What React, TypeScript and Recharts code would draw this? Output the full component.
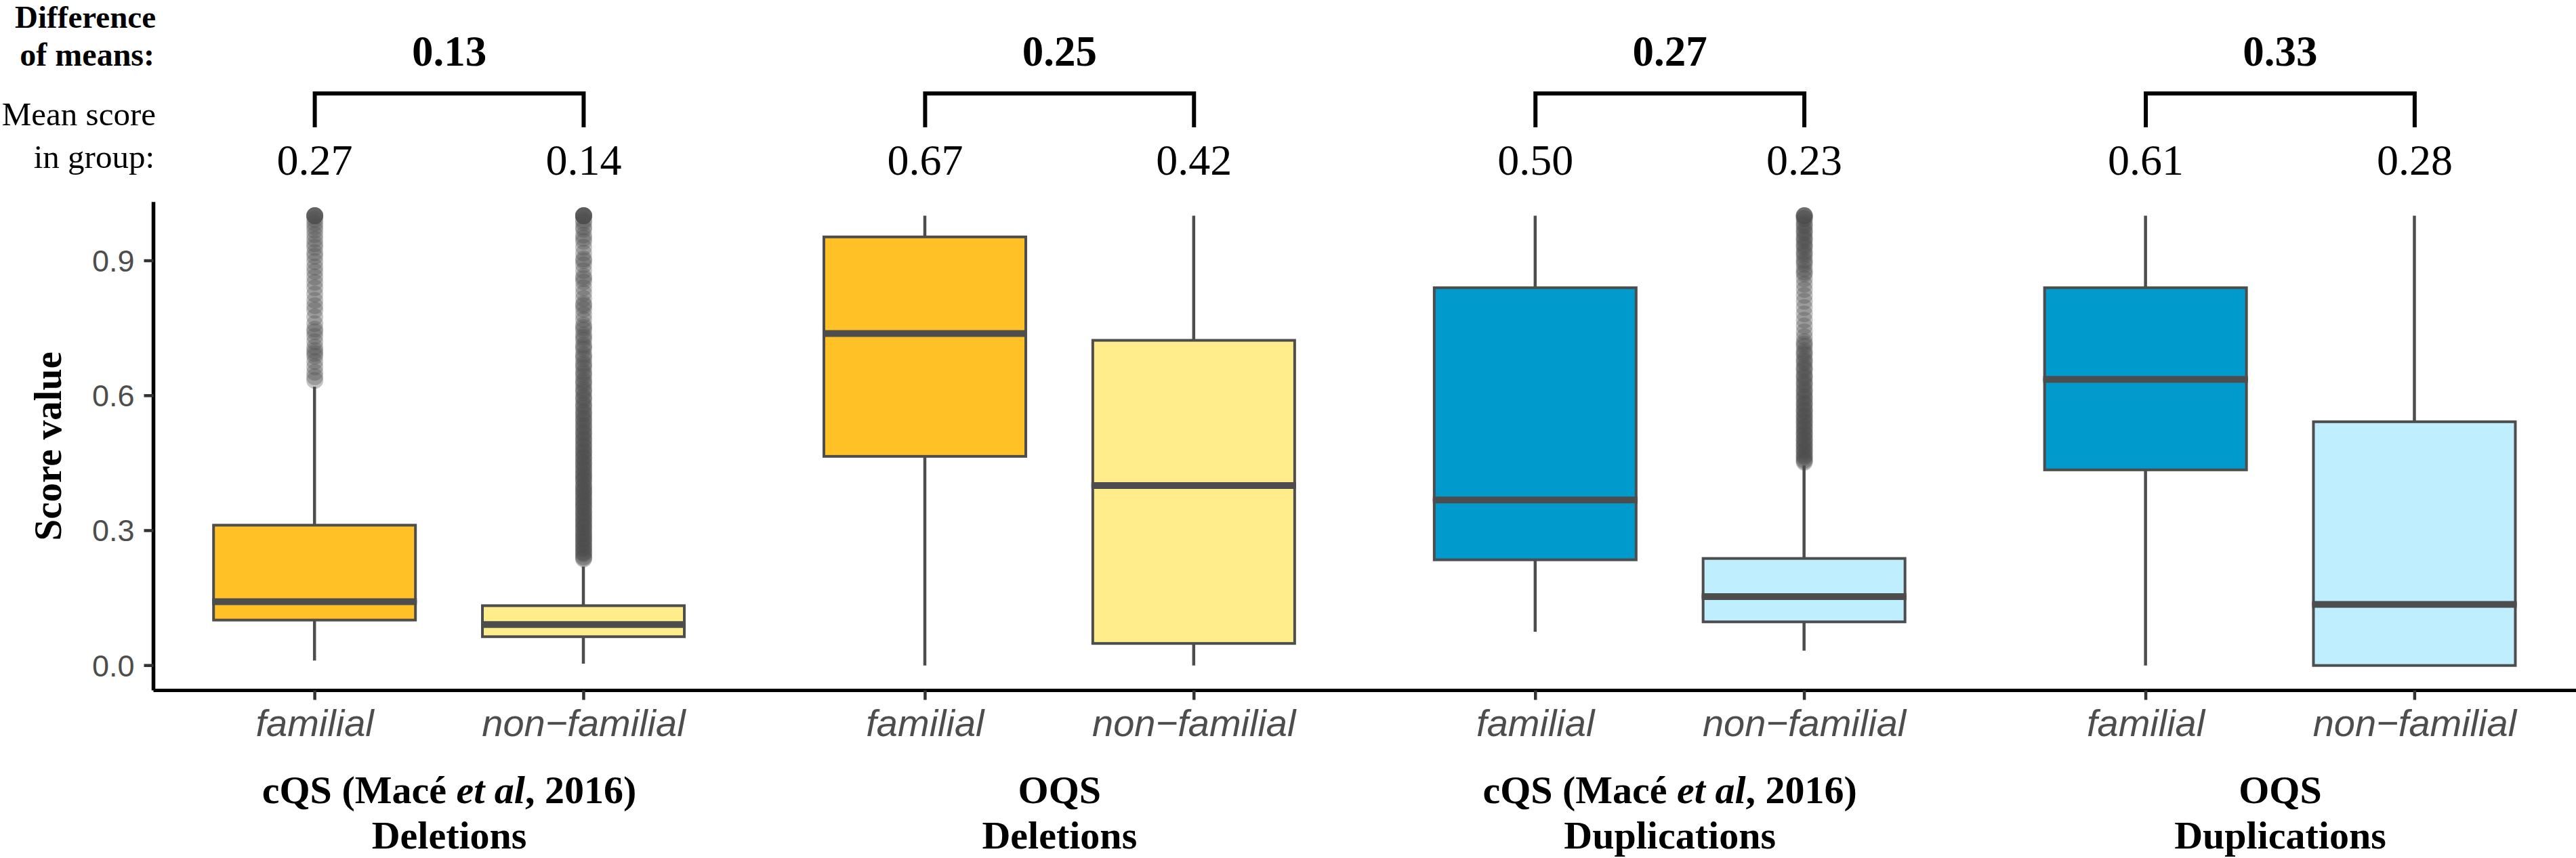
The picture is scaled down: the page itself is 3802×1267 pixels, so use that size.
import React from 'react';
import { ComposedChart, Bar, Scatter, XAxis, YAxis, ReferenceLine } from 'recharts';

const W = 3802;
const H = 1267;
const SERIF = '"Liberation Serif", "Times New Roman", Times, serif';
const SANS = '"Liberation Sans", Arial, Helvetica, sans-serif';
const INK = '#4D4D4D';

// categories inside each facet
const groupLabels = ['familial', 'non\u2212familial'];
const facetMethods = ['cQS (Macé et al, 2016)', 'OQS', 'cQS (Macé et al, 2016)', 'OQS'];
const facetTypes = ['Deletions', 'Deletions', 'Duplications', 'Duplications'];

// one entry per box: del cQS f/nf, del OQS f/nf, dup cQS f/nf, dup OQS f/nf
const boxFills = ['#FFC125', '#FFEC8B', '#FFC125', '#FFEC8B', '#009ACD', '#BFEFFF', '#009ACD', '#BFEFFF'];
const whiskerLow = [0.011, 0.004, 0.0, 0.0, 0.075, 0.033, 0.0, 0.0];
const q1 = [0.101, 0.064, 0.465, 0.049, 0.235, 0.097, 0.435, 0.0];
const median = [0.142, 0.091, 0.738, 0.4, 0.368, 0.153, 0.636, 0.136];
const q3 = [0.312, 0.133, 0.953, 0.723, 0.84, 0.238, 0.84, 0.542];
const whiskerHigh = [0.62, 0.22, 1.0, 1.0, 1.0, 0.445, 1.0, 1.0];

const meanScores = [0.27, 0.14, 0.67, 0.42, 0.5, 0.23, 0.61, 0.28];
const meanDiffs = [0.13, 0.25, 0.27, 0.33];

const outliersDelCqsFam = [
  0.634, 0.642, 0.652, 0.664, 0.676, 0.688, 0.694, 0.7, 0.708, 0.72, 0.732, 0.742, 0.748, 0.76,
  0.775, 0.79, 0.8, 0.812, 0.826, 0.84, 0.852, 0.864, 0.876, 0.886, 0.898, 0.91, 0.918, 0.93,
  0.938, 0.948, 0.958, 0.968, 0.976, 0.984, 0.992, 1.0, 1.0, 1.0, 1.0, 1.0,
];
const outliersDelCqsNonFam = [
  0.237, 0.242, 0.248, 0.253, 0.259, 0.264, 0.27, 0.276, 0.281, 0.287, 0.292, 0.298, 0.304, 0.309,
  0.315, 0.321, 0.326, 0.332, 0.338, 0.343, 0.35, 0.356, 0.361, 0.367, 0.373, 0.379, 0.385, 0.39,
  0.396, 0.402, 0.409, 0.415, 0.421, 0.427, 0.433, 0.44, 0.446, 0.452, 0.459, 0.465, 0.472, 0.478,
  0.485, 0.492, 0.499, 0.506, 0.513, 0.52, 0.527, 0.535, 0.542, 0.55, 0.557, 0.565, 0.573, 0.581,
  0.59, 0.598, 0.607, 0.616, 0.625, 0.634, 0.643, 0.653, 0.662, 0.672, 0.682, 0.692, 0.703, 0.713,
  0.724, 0.735, 0.746, 0.757, 0.769, 0.78, 0.792, 0.804, 0.816, 0.828, 0.84, 0.853, 0.865, 0.878,
  0.891, 0.904, 0.917, 0.93, 0.943, 0.957, 0.97, 0.985, 1.0, 1.0, 1.0, 1.0,
  0.2395, 0.2505, 0.2615, 0.2725, 0.2835, 0.2945, 0.3065, 0.3175, 0.3295, 0.3405, 0.3525, 0.3645,
  0.3755, 0.3875, 0.3985, 0.4125, 0.4235, 0.4365, 0.4495, 0.4625, 0.4755, 0.4885, 0.5025, 0.5165,
  0.5315, 0.5465, 0.5615, 0.5775, 0.5945, 0.6115, 0.6295, 0.6485, 0.6675, 0.6875, 0.7085, 0.7295,
  0.7515, 0.8, 0.86, 0.9, 0.95, 0.975, 0.99, 1.0, 1.0,
];
const outliersDupCqsNonFam = [
  0.452, 0.458, 0.463, 0.469, 0.475, 0.481, 0.487, 0.493, 0.499, 0.505, 0.512, 0.518, 0.524, 0.531,
  0.537, 0.544, 0.55, 0.557, 0.564, 0.571, 0.578, 0.585, 0.592, 0.6, 0.607, 0.615, 0.623, 0.631,
  0.639, 0.647, 0.656, 0.664, 0.673, 0.682, 0.691, 0.7, 0.71, 0.72, 0.731, 0.742, 0.755, 0.768,
  0.782, 0.796, 0.81, 0.823, 0.836, 0.848, 0.86, 0.871, 0.882, 0.892, 0.902, 0.911, 0.92, 0.929,
  0.937, 0.945, 0.953, 0.961, 0.969, 0.977, 0.985, 0.993, 1.0, 1.0, 1.0,
  0.455, 0.466, 0.478, 0.49, 0.502, 0.515, 0.528, 0.541, 0.554, 0.567, 0.581, 0.596, 0.611, 0.627,
  0.643, 0.66, 0.677, 0.695, 0.715, 0.875, 0.897, 0.916, 0.933, 0.949, 0.965, 0.98, 0.995, 1.0,
];
const outliers = [outliersDelCqsFam, outliersDelCqsNonFam, [], [], [], outliersDupCqsNonFam, [], []];

// facets sit 2.27 category-steps apart (2.2 panel + spacing)
const PANEL_STEP = 2.27;
const posOf = (k: number) => Math.floor(k / 2) * PANEL_STEP + (k % 2);

// annotation levels above the panel, in score units
const BRACKET_Y = 1.272;
const LEG_TOP = 1.2765;
const LEG_BOTTOM = 1.1967;

const rows = whiskerLow.map((lo, k) => ({
  pos: posOf(k),
  label: groupLabels[k % 2],
  fill: boxFills[k],
  base: lo,
  lowW: q1[k] - lo,
  lowBox: median[k] - q1[k],
  upBox: q3[k] - median[k],
  upW: whiskerHigh[k] - q3[k],
}));

const outlierRows = outliers.flatMap((vals, k) => vals.map((v) => ({ pos: posOf(k), value: v })));
const facetMids = facetMethods.map((_, g) => g * PANEL_STEP + 0.5);
const xDomain = [-0.6, posOf(7) + 0.6];

const Whisker = (p: any) => {
  if (!p.height || p.height <= 0) return null;
  const cx = p.x + p.width / 2;
  return <line x1={cx} x2={cx} y1={p.y} y2={p.y + p.height} stroke={INK} strokeWidth={4.5} />;
};

const LowerBox = (p: any) => (
  <rect x={p.x} y={p.y} width={p.width} height={Math.max(p.height, 0)} fill={p.payload.fill} stroke={INK} strokeWidth={4} />
);

const UpperBox = (p: any) => (
  <g>
    <rect x={p.x} y={p.y} width={p.width} height={Math.max(p.height, 0)} fill={p.payload.fill} stroke={INK} strokeWidth={4} />
    <line x1={p.x - 2} x2={p.x + p.width + 2} y1={p.y + p.height} y2={p.y + p.height} stroke={INK} strokeWidth={10} />
  </g>
);

const OutlierDot = (p: any) => <circle cx={p.cx} cy={p.cy} r={12.5} fill={INK} fillOpacity={0.33} />;

const FacetTick = (p: any) => {
  const g = p.index;
  const title = facetMethods[g] || '';
  const parts = title.split('et al');
  return (
    <g>
      <text x={p.x} y={p.y + 56} textAnchor="middle" fontFamily={SERIF} fontWeight="bold" fontSize={58} fill="#000">
        {parts.length > 1 ? (
          <>
            <tspan>{parts[0]}</tspan>
            <tspan fontStyle="italic">et al</tspan>
            <tspan>{parts[1]}</tspan>
          </>
        ) : (
          title
        )}
      </text>
      <text x={p.x} y={p.y + 123} textAnchor="middle" fontFamily={SERIF} fontWeight="bold" fontSize={58} fill="#000">
        {facetTypes[g]}
      </text>
    </g>
  );
};

const YTitle = (p: any) => {
  const vb = p.viewBox || { x: 0, y: 298, width: 226, height: 721 };
  const x = vb.x + 90;
  const y = vb.y + vb.height / 2;
  return (
    <text x={x} y={y} transform={`rotate(-90 ${x} ${y})`} textAnchor="middle" fontFamily={SERIF} fontWeight="bold" fontSize={57} fill="#000">
      Score value
    </text>
  );
};

const meanLabel = (text: string) => (p: any) => {
  const vb = p.viewBox || {};
  return (
    <text x={vb.x + (vb.width || 0) / 2} y={vb.y + (vb.height || 0) + 70} textAnchor="middle" fontFamily={SERIF} fontSize={64} fill="#000">
      {text}
    </text>
  );
};

const diffLabel = (text: string) => (p: any) => {
  const vb = p.viewBox || {};
  return (
    <text x={vb.x + (vb.width || 0) / 2} y={vb.y - 41} textAnchor="middle" fontFamily={SERIF} fontWeight="bold" fontSize={63} fill="#000">
      {text}
    </text>
  );
};

export default function App() {
  return (
    <div style={{ position: 'absolute', left: 0, top: 0, width: W, height: H, background: '#fff' }}>
      <ComposedChart width={W} height={H} data={rows} margin={{ top: 298.3, right: 0, bottom: 0, left: 0 }}>
        <XAxis
          xAxisId="cat"
          type="number"
          dataKey="pos"
          domain={xDomain}
          allowDataOverflow
          ticks={rows.map((r) => r.pos)}
          interval={0}
          tickFormatter={(v: number) => rows.find((r) => Math.abs(r.pos - v) < 1e-6)?.label ?? ''}
          height={110}
          axisLine={{ stroke: '#000', strokeWidth: 5 }}
          tickLine={{ stroke: '#333', strokeWidth: 4.5 }}
          tickSize={14}
          tickMargin={14}
          tick={{ fill: INK, fontSize: 56, fontFamily: SANS, fontStyle: 'italic' }}
        />
        <XAxis
          xAxisId="facet"
          type="number"
          dataKey="pos"
          domain={xDomain}
          allowDataOverflow
          ticks={facetMids}
          interval={0}
          height={137.5}
          axisLine={false}
          tickLine={false}
          tickSize={0}
          tickMargin={0}
          tick={<FacetTick />}
        />
        <YAxis
          type="number"
          domain={[-0.0554, 1.0306]}
          allowDataOverflow
          ticks={[0, 0.3, 0.6, 0.9]}
          tickFormatter={(v: number) => v.toFixed(1)}
          width={226.5}
          axisLine={{ stroke: '#000', strokeWidth: 5.5 }}
          tickLine={{ stroke: '#333', strokeWidth: 4.5 }}
          tickSize={14}
          tickMargin={14}
          tick={{ fill: INK, fontSize: 45, fontFamily: SANS }}
          label={<YTitle />}
        />
        <Bar xAxisId="cat" dataKey="base" stackId="box" barSize={298} fill="none" shape={() => null} isAnimationActive={false} />
        <Bar xAxisId="cat" dataKey="lowW" stackId="box" barSize={298} shape={<Whisker />} isAnimationActive={false} />
        <Bar xAxisId="cat" dataKey="lowBox" stackId="box" barSize={298} shape={<LowerBox />} isAnimationActive={false} />
        <Bar xAxisId="cat" dataKey="upBox" stackId="box" barSize={298} shape={<UpperBox />} isAnimationActive={false} />
        <Bar xAxisId="cat" dataKey="upW" stackId="box" barSize={298} shape={<Whisker />} isAnimationActive={false} />
        <Scatter xAxisId="cat" data={outlierRows} dataKey="value" shape={<OutlierDot />} isAnimationActive={false} />
        {meanDiffs.map((d, g) => {
          const a = posOf(2 * g);
          const b = posOf(2 * g + 1);
          return (
            <React.Fragment key={g}>
              <ReferenceLine
                xAxisId="cat"
                ifOverflow="visible"
                segment={[{ x: a, y: BRACKET_Y }, { x: b, y: BRACKET_Y }]}
                stroke="#000"
                strokeWidth={6}
                label={diffLabel(d.toFixed(2))}
              />
              <ReferenceLine
                xAxisId="cat"
                ifOverflow="visible"
                segment={[{ x: a, y: LEG_TOP }, { x: a, y: LEG_BOTTOM }]}
                stroke="#000"
                strokeWidth={6}
                label={meanLabel(meanScores[2 * g].toFixed(2))}
              />
              <ReferenceLine
                xAxisId="cat"
                ifOverflow="visible"
                segment={[{ x: b, y: LEG_TOP }, { x: b, y: LEG_BOTTOM }]}
                stroke="#000"
                strokeWidth={6}
                label={meanLabel(meanScores[2 * g + 1].toFixed(2))}
              />
            </React.Fragment>
          );
        })}
      </ComposedChart>
      <svg width={260} height={280} style={{ position: 'absolute', left: 0, top: 0, pointerEvents: 'none' }}>
        <g fontFamily={SERIF} fill="#000" textAnchor="end">
          <text x={230} y={41} fontSize={47} fontWeight="bold">Difference</text>
          <text x={228} y={97} fontSize={48} fontWeight="bold">of means:</text>
          <text x={230} y={185} fontSize={49}>Mean score</text>
          <text x={228} y={248} fontSize={49}>in group:</text>
        </g>
      </svg>
    </div>
  );
}
